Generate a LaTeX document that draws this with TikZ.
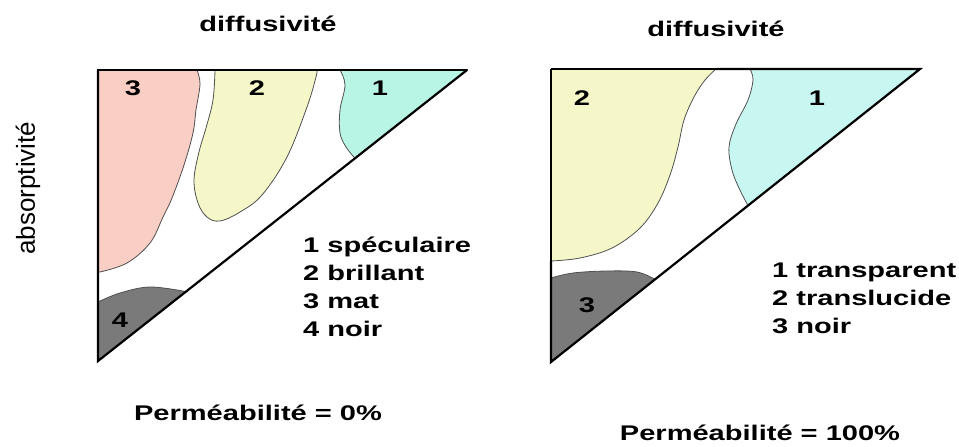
\documentclass[tikz,border=0pt]{standalone}
\usepackage{fontspec}
\usepackage{xcolor}
\usepackage{tikz}
\usetikzlibrary{calc,positioning}
\setmainfont{Liberation Sans}
\newfontfamily\lblfont[FakeStretch=1.37]{Liberation Sans}
\definecolor{matc}{HTML}{F9CEC4}
\definecolor{brilc}{HTML}{F5F7C8}
\definecolor{specc}{HTML}{B8F5E4}
\definecolor{transc}{HTML}{C8F7F2}
\definecolor{noirc}{HTML}{7A7A7A}
\definecolor{edgec}{HTML}{505050}
\tikzset{
  zone/.style={draw=edgec,line width=0.8pt,line join=round},
  side/.style={draw=black,line width=2.2pt,line cap=round},
  thinside/.style={draw=black,line width=1.2pt},
  lbl/.style={font=\lblfont\bfseries\fontsize{21.2}{28}\selectfont,inner sep=0pt},
  num/.style={lbl,anchor=center},
  legend/.style={lbl,anchor=base west}
}
\begin{document}
\begin{tikzpicture}[x=1pt,y=-1pt]
\useasboundingbox (0,0) rectangle (959,447);
% --- left triangle (permeabilite 0%)
\coordinate (LA) at (98,70);
\coordinate (LB) at (467,70);
\coordinate (LC) at (98,361);
\fill[matc,zone] (LA) -- (197,70) -- plot[smooth,tension=0.6] coordinates {(197,70) (200,84) (196,110) (193,133) (184,165) (172,198) (163,217) (150,243) (127,263) (100,272)} -- (98,272) -- cycle;
\fill[brilc,zone] (215,70) -- plot[smooth,tension=0.6] coordinates {(215,70) (213,100) (206,128) (199,152) (194,180) (198,203) (207,217) (220,221) (240,212) (262,195) (287,157) (307,107) (316,77) (317,70)} -- cycle;
\fill[specc,zone] (340,70) -- plot[smooth,tension=0.6] coordinates {(340,70) (345,85) (340,110) (340,133) (346,147) (355,158.3)} -- (LB) -- cycle;
\fill[noirc,zone] (98,302) -- plot[smooth,tension=0.6] coordinates {(98,302) (120,293) (150,287) (186,291.6)} -- (LC) -- cycle;
\draw[side] (LA) -- (317,70);
\draw[thinside] (317,70) -- (LB);
\draw[side] (LB) -- (LC) -- (LA);
\node[num] (l3) at (133,88) {3};
\node[num] (l2) at (257,88) {2};
\node[num] (l1) at (380,88) {1};
\node[num] (l4) at (120,320) {4};
\node[lbl,anchor=base] (ldif) at (268,31) {diffusivit\'e};
\node[inner sep=0pt,rotate=90,font=\fontsize{26}{30}\selectfont] (labs) at (28,188) {absorptivit\'e};
\foreach \t [count=\i] in {1 sp\'eculaire,2 brillant,3 mat,4 noir}
  \node[legend] (lleg\i) at (303,{252+28.3*(\i-1)}) {\t};
\node[lbl,anchor=base] (lperm) at (258,420) {Perm\'eabilit\'e = 0\%};
% --- right triangle (permeabilite 100%)
\coordinate (RA) at (551,69);
\coordinate (RB) at (920,69);
\coordinate (RC) at (551,362);
\fill[brilc,zone] (RA) -- (716,69) -- plot[smooth,tension=0.6] coordinates {(716,69) (705,80) (694,97) (684,120) (678,147) (670,175) (658,203) (640,228) (612,248) (580,258) (551,261)} -- cycle;
\fill[transc,zone] (750,69) -- plot[smooth,tension=0.6] coordinates {(750,69) (753,80) (748,100) (736,124) (729,147) (732,170) (739,188) (748,205.6)} -- (RB) -- cycle;
\fill[noirc,zone] (551,278) -- plot[smooth,tension=0.6] coordinates {(551,278) (573,273) (607,271) (637,272) (655,279.4)} -- (RC) -- cycle;
\draw[thinside] (RA) -- (716,69);
\draw[side] (716,69) -- (RB) -- (RC) -- (551,261);
\draw[thinside] (551,261) -- (RA);
\node[num] (r2) at (582,98) {2};
\node[num] (r1) at (817,98) {1};
\node[num] (r3) at (587,305) {3};
\node[lbl,anchor=base] (rdif) at (716,36) {diffusivit\'e};
\foreach \t [count=\i] in {1 transparent,2 translucide,3 noir}
  \node[legend] (rleg\i) at (772,{277+28*(\i-1)}) {\t};
\node[lbl,anchor=base] (rperm) at (760,440) {Perm\'eabilit\'e = 100\%};
\end{tikzpicture}
\end{document}
